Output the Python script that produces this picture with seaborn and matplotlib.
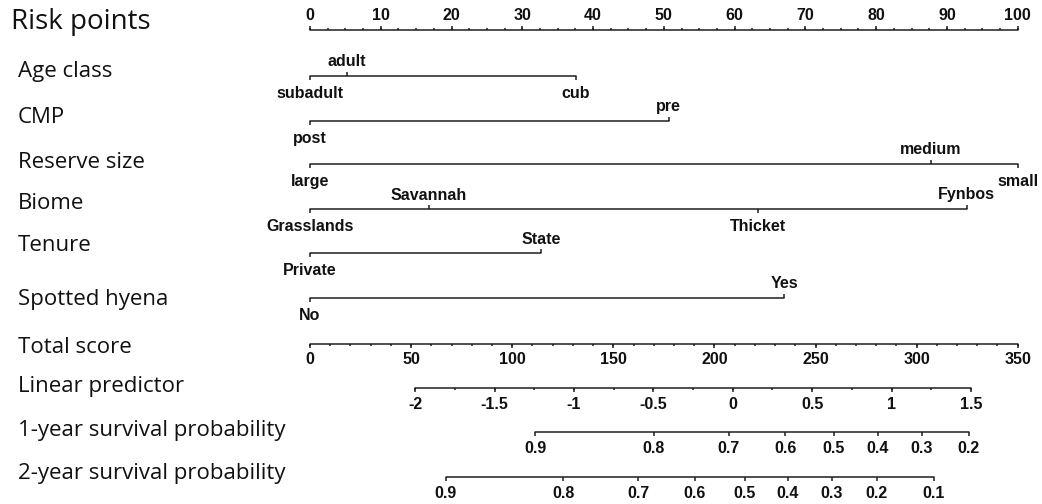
import numpy as np
import pandas as pd
import matplotlib
matplotlib.use("Agg")
import matplotlib.pyplot as plt
import seaborn as sns

# ---------------- nomogram content ----------------
risk_ticks = [0, 10, 20, 30, 40, 50, 60, 70, 80, 90, 100]
risk_minor_step = 2.5

age_levels = ["subadult", "adult", "cub"]
age_points = [0.0, 5.2, 37.6]
cmp_levels = ["post", "pre"]
cmp_points = [0.0, 50.7]
reserve_levels = ["large", "medium", "small"]
reserve_points = [0.0, 87.7, 100.0]
biome_levels = ["Grasslands", "Savannah", "Thicket", "Fynbos"]
biome_points = [0.0, 16.8, 63.3, 92.8]
tenure_levels = ["Private", "State"]
tenure_points = [0.0, 32.6]
hyena_levels = ["No", "Yes"]
hyena_points = [0.0, 67.0]

total_max = 350
total_ticks = [0, 50, 100, 150, 200, 250, 300, 350]
total_minor_step = 10

lp_ticks = [-2, -1.5, -1, -0.5, 0, 0.5, 1, 1.5]
lp_minor_step = 0.25
lp_ref = [-2.0, 1.5]            # linear predictor at the ends of its scale
lp_ref_total = [52.0, 326.9]    # matching total score

surv1_ticks = [0.9, 0.8, 0.7, 0.6, 0.5, 0.4, 0.3, 0.2]
surv1_total = [111.5, 170.1, 207.2, 235.0, 259.1, 280.9, 302.7, 325.7]
surv2_ticks = [0.9, 0.8, 0.7, 0.6, 0.5, 0.4, 0.3, 0.2, 0.1]
surv2_total = [67.1, 125.3, 162.4, 190.3, 214.9, 236.4, 258.1, 280.4, 308.4]

# ---------------- styling / layout ----------------
sns.set_theme(style="white")
plt.rcParams["font.family"] = ["Liberation Sans", "DejaVu Sans"]

LINE_COLOR = "#1e1e1e"
TEXT_COLOR = "#111111"
LW = 1.1
TICK_FONT = dict(family="Liberation Sans", weight="bold", size=11.5, color=TEXT_COLOR)
ROW_FONT = dict(family="Open Sans", size=16, color=TEXT_COLOR)

W, H = 1042, 504
ZERO_PX, PX_PER_POINT = 310.0, 7.077

fig = plt.figure(figsize=(W / 100, H / 100), dpi=100)
ax = fig.add_axes([0, 0, 1, 1])

# row layout: (row title, y of scale line, y of title baseline, title x, title size)
rows = {
    "risk":    ("Risk points", 29.5, 29, 11, 20),
    "age":     ("Age class", 76, 77, 18, None),
    "cmp":     ("CMP", 121, 123, 18, None),
    "reserve": ("Reserve size", 164, 168, 18, None),
    "biome":   ("Biome", 209, 209, 18, None),
    "tenure":  ("Tenure", 253, 251, 18, None),
    "hyena":   ("Spotted hyena", 298, 305, 18, None),
    "total":   ("Total score", 344, 353, 18, None),
    "lp":      ("Linear predictor", 388, 392, 18, None),
    "s1":      ("1-year survival probability", 432, 436, 18, None),
    "s2":      ("2-year survival probability", 477, 479, 18, None),
}

MAJOR, MINOR = 4.0, 2.0
segments = []


def total_to_points(t):
    return np.asarray(t, dtype=float) * 100.0 / total_max


def lp_to_points(v):
    return total_to_points(np.interp(v, lp_ref, lp_ref_total))


def add_segment(key, x_lo, x_hi):
    y = rows[key][1]
    segments.append({"seg": key, "x": float(x_lo), "y": y})
    segments.append({"seg": key, "x": float(x_hi), "y": y})


def ticks(key, xs, length, direction):
    y = rows[key][1]
    ax.vlines(xs, y, y + direction * length, color=LINE_COLOR, lw=LW)


def labels(key, xs, texts, offset):
    y = rows[key][1]
    for x, t in zip(xs, texts):
        ax.text(x, y + offset, t, ha="center", va="baseline", **TICK_FONT)


def fmt(v):
    return f"{v:g}"


# Risk points scale
add_segment("risk", risk_ticks[0], risk_ticks[-1])
ticks("risk", np.arange(risk_ticks[0], risk_ticks[-1] + 1e-9, risk_minor_step), MINOR, -1)
ticks("risk", risk_ticks, MAJOR, -1)
labels("risk", risk_ticks, [fmt(v) for v in risk_ticks], -9)

# Categorical predictors: labels alternate below / above the line
for key, levels, pts in [
    ("age", age_levels, age_points),
    ("cmp", cmp_levels, cmp_points),
    ("reserve", reserve_levels, reserve_points),
    ("biome", biome_levels, biome_points),
    ("tenure", tenure_levels, tenure_points),
    ("hyena", hyena_levels, hyena_points),
]:
    add_segment(key, min(pts), max(pts))
    y = rows[key][1]
    for i, (lev, p) in enumerate(zip(levels, pts)):
        below = (i % 2 == 0)
        d = 1 if below else -1
        ax.vlines(p, y, y + d * MAJOR, color=LINE_COLOR, lw=LW)
        ax.text(p, y + (22 if below else -9.5), lev, ha="center", va="baseline", **TICK_FONT)

# Total score
add_segment("total", 0, total_to_points(total_max))
ticks("total", total_to_points(np.arange(0, total_max + 1e-9, total_minor_step)), MINOR, 1)
ticks("total", total_to_points(total_ticks), MAJOR, 1)
labels("total", total_to_points(total_ticks), [fmt(v) for v in total_ticks], 20)

# Linear predictor
add_segment("lp", lp_to_points(lp_ticks[0]), lp_to_points(lp_ticks[-1]))
ticks("lp", lp_to_points(np.arange(lp_ticks[0], lp_ticks[-1] + 1e-9, lp_minor_step)), MINOR, 1)
ticks("lp", lp_to_points(lp_ticks), MAJOR, 1)
labels("lp", lp_to_points(lp_ticks), [fmt(v) for v in lp_ticks], 21)

# Survival probabilities
for key, vals, tot in [("s1", surv1_ticks, surv1_total), ("s2", surv2_ticks, surv2_total)]:
    xs = total_to_points(tot)
    add_segment(key, xs[0], xs[-1])
    ticks(key, xs, MAJOR, 1)
    labels(key, xs, [fmt(v) for v in vals], 21)

# Scale lines drawn through seaborn
seg_df = pd.DataFrame(segments)
sns.lineplot(data=seg_df, x="x", y="y", units="seg", estimator=None, sort=False,
             color=LINE_COLOR, lw=LW, ax=ax, legend=False)

# Row titles
for key, (title, ly, by, tx, size) in rows.items():
    font = dict(ROW_FONT)
    if size is not None:
        font["size"] = size
    ax.text((tx - ZERO_PX) / PX_PER_POINT, by, title, ha="left", va="baseline", **font)

ax.set_xlim(-ZERO_PX / PX_PER_POINT, (W - ZERO_PX) / PX_PER_POINT)
ax.set_ylim(H, 0)
ax.axis("off")

fig.savefig("out.png", dpi=100, facecolor="white")
